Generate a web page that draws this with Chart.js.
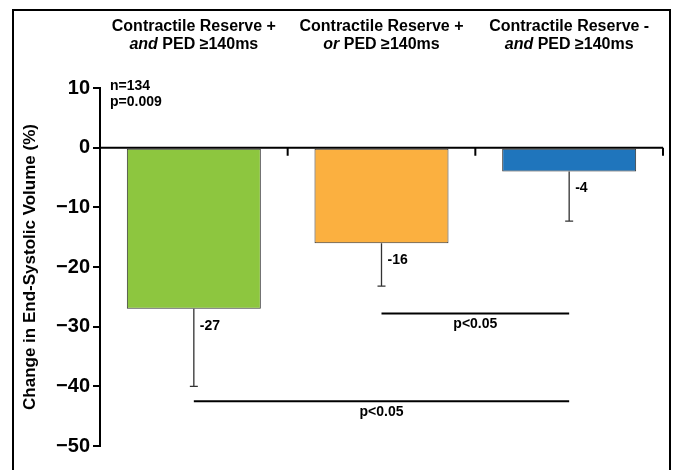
<!DOCTYPE html>
<html>
<head>
<meta charset="utf-8">
<style>
  html, body { margin: 0; padding: 0; background: #fff; }
  #wrap { width: 678px; height: 470px; position: relative; }
</style>
<script src="https://cdn.jsdelivr.net/npm/chart.js@4.4.1/dist/chart.umd.min.js"></script>
</head>
<body>
<div id="wrap"><canvas id="esv"></canvas></div>
<script>
// values
var groups = ['CR+ and PED', 'CR+ or PED', 'CR- and PED'];
var headLine1 = ['Contractile Reserve +', 'Contractile Reserve +', 'Contractile Reserve -'];
var headItalic = ['and', 'or', 'and'];
var headRest = [' PED \u2265140ms', ' PED \u2265140ms', ' PED \u2265140ms'];
var meanChange = [-27, -16, -4];
var errorLow = [-40, -23.2, -12.3];
var barColors = ['#8dc63f', '#fbb040', '#1f75bc'];

// significance brackets: from group, to group, level on the y scale
var sigFrom = [1, 0];
var sigTo = [2, 2];
var sigLevel = [-27.8, -42.5];
var sigText = ['p<0.05', 'p<0.05'];

var statsText = ['n=134', 'p=0.009'];

var FONT = '"Liberation Sans", Arial, sans-serif';

var extras = {
    id: 'extras',
    beforeDraw: function(chart) {
        var ctx = chart.ctx;
        ctx.save();
        ctx.strokeStyle = '#000';
        ctx.lineWidth = 2;
        ctx.strokeRect(13, 10, 657, 480);
        ctx.restore();
    },
    afterDatasetsDraw: function(chart) {
        var ctx = chart.ctx;
        var area = chart.chartArea;
        var x = chart.scales.x;
        var y = chart.scales.y;
        var bars = chart.getDatasetMeta(0).data;
        var step = (area.right - area.left) / groups.length;
        var y0 = y.getPixelForValue(0);

        ctx.save();

        // zero line with ticks between groups
        ctx.strokeStyle = '#000';
        ctx.lineWidth = 2;
        ctx.beginPath();
        ctx.moveTo(area.left, y0);
        ctx.lineTo(area.right, y0);
        for (var i = 1; i <= groups.length; i++) {
            var bx = x.getPixelForValue(i - 1) + step / 2;
            ctx.moveTo(bx, y0);
            ctx.lineTo(bx, y0 + 8);
        }
        ctx.stroke();

        // error bars (lower only) and value labels
        ctx.strokeStyle = '#333';
        ctx.lineWidth = 1.3;
        ctx.fillStyle = '#000';
        ctx.font = 'bold 14px ' + FONT;
        ctx.textAlign = 'left';
        ctx.textBaseline = 'middle';
        bars.forEach(function(bar, i) {
            var yb = y.getPixelForValue(meanChange[i]);
            var ye = y.getPixelForValue(errorLow[i]);
            ctx.beginPath();
            ctx.moveTo(bar.x, yb);
            ctx.lineTo(bar.x, ye);
            ctx.moveTo(bar.x - 4, ye);
            ctx.lineTo(bar.x + 4, ye);
            ctx.stroke();
            ctx.fillText(String(meanChange[i]), bar.x + 6, yb + 17);
        });

        // significance lines
        ctx.strokeStyle = '#000';
        ctx.lineWidth = 2;
        ctx.textAlign = 'center';
        for (var s = 0; s < sigLevel.length; s++) {
            var x1 = bars[sigFrom[s]].x;
            var x2 = bars[sigTo[s]].x;
            var ys = y.getPixelForValue(sigLevel[s]);
            ctx.beginPath();
            ctx.moveTo(x1, ys);
            ctx.lineTo(x2, ys);
            ctx.stroke();
            ctx.fillText(sigText[s], (x1 + x2) / 2, ys + 11);
        }

        // n and p in the corner
        ctx.textAlign = 'left';
        ctx.fillText(statsText[0], area.left + 10, 86);
        ctx.fillText(statsText[1], area.left + 10, 102);

        // group headings
        for (var g = 0; g < groups.length; g++) {
            var cx = x.getPixelForValue(g);
            ctx.font = 'bold 16px ' + FONT;
            ctx.textAlign = 'center';
            ctx.fillText(headLine1[g], cx, 27);
            ctx.font = 'italic bold 16px ' + FONT;
            var wi = ctx.measureText(headItalic[g]).width;
            ctx.font = 'bold 16px ' + FONT;
            var wr = ctx.measureText(headRest[g]).width;
            var start = cx - (wi + wr) / 2;
            ctx.textAlign = 'left';
            ctx.font = 'italic bold 16px ' + FONT;
            ctx.fillText(headItalic[g], start, 45);
            ctx.font = 'bold 16px ' + FONT;
            ctx.fillText(headRest[g], start + wi, 45);
        }

        ctx.restore();
    }
};

var chart = new Chart(document.getElementById('esv').getContext('2d'), {
    type: 'bar',
    data: {
        labels: groups,
        datasets: [{
            data: meanChange,
            backgroundColor: barColors,
            borderColor: '#333',
            borderWidth: 1,
            borderSkipped: false,
            barPercentage: 0.714,
            categoryPercentage: 1
        }]
    },
    options: {
        responsive: true,
        maintainAspectRatio: false,
        animation: false,
        layout: {
            padding: { left: 0, right: 15, top: 88, bottom: 24 }
        },
        plugins: {
            legend: { display: false },
            tooltip: { enabled: false }
        },
        scales: {
            x: {
                display: false
            },
            y: {
                min: -50,
                max: 10,
                ticks: {
                    stepSize: 10,
                    color: '#000',
                    padding: 3,
                    font: { family: FONT, size: 20, weight: 'bold' },
                    callback: function(value) {
                        return value < 0 ? '\u2212' + Math.abs(value) : String(value);
                    }
                },
                grid: {
                    drawOnChartArea: false,
                    drawTicks: true,
                    tickLength: 7,
                    color: '#000',
                    lineWidth: 2
                },
                border: { display: true, color: '#000', width: 2 },
                title: {
                    display: true,
                    text: 'Change in End-Systolic Volume (%)',
                    color: '#000',
                    font: { family: FONT, size: 17, weight: 'bold' },
                    padding: { top: 20, bottom: 0 }
                },
                afterFit: function(scale) {
                    scale.width = 100;
                }
            }
        }
    },
    plugins: [extras]
});
</script>
</body>
</html>
